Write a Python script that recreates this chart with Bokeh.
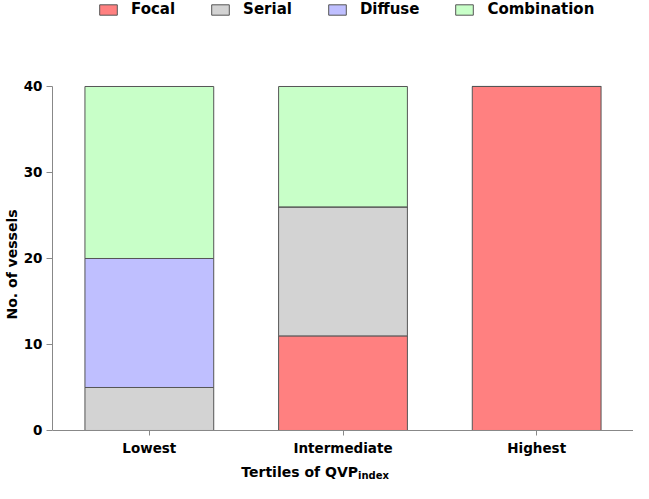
from bokeh.plotting import figure
from bokeh.models import Legend, Label, FixedTicker, Title
from bokeh.embed import file_html
from bokeh.resources import INLINE

tertiles = ["Lowest", "Intermediate", "Highest"]
series = ["Focal", "Serial", "Diffuse", "Combination"]
focal = [0, 11, 40]
serial = [5, 15, 0]
diffuse = [15, 0, 0]
combination = [20, 14, 0]
colors = ["#FF8080", "#D3D3D3", "#BFBFFF", "#C8FFC8"]
y_ticks = [0, 10, 20, 30, 40]

FONT = "DejaVu Sans"

data = {"tertile": tertiles, "Focal": focal, "Serial": serial,
        "Diffuse": diffuse, "Combination": combination}

p = figure(x_range=tertiles, y_range=(-6.163, 50.0), width=633, height=483,
           output_backend="svg", toolbar_location=None,
           min_border_left=45, min_border_right=0, min_border_top=0,
           min_border_bottom=0)

rs = p.vbar_stack(series, x="tertile", width=0.665, source=data,
                  fill_color=colors, line_color="#555555", line_width=1)

legend = Legend(items=[(s, [r]) for s, r in zip(series, rs)],
                orientation="horizontal", location=(45, 465),
                label_text_font=FONT, label_text_font_style="bold",
                label_text_font_size="15px", label_text_color="black",
                glyph_width=22, glyph_height=13,
                label_standoff=12, spacing=34, padding=0, margin=0,
                border_line_color=None, background_fill_alpha=0)
p.add_layout(legend, "center")

p.xgrid.grid_line_color = None
p.ygrid.grid_line_color = None
p.outline_line_color = None

p.xaxis.fixed_location = 0

p.yaxis.ticker = FixedTicker(ticks=y_ticks)
p.yaxis.bounds = (0, 40)
p.yaxis.minor_tick_line_color = None

for ax in (p.xaxis, p.yaxis):
    ax.axis_line_color = "#888888"
    ax.major_tick_line_color = "#888888"
    ax.major_tick_out = 6
    ax.major_tick_in = 0
    ax.major_label_text_font = FONT
    ax.major_label_text_font_style = "bold"
    ax.major_label_text_font_size = "13.5px"
    ax.major_label_text_color = "black"
    ax.major_label_standoff = 4

p.xaxis.major_tick_out = 5
p.xaxis.major_label_standoff = 5

ytitle = Title(text="No. of vessels", align="left", offset=164,
               text_font=FONT, text_font_style="bold",
               text_font_size="14px", text_color="black", standoff=2)
p.add_layout(ytitle, "left")

lab1 = Label(x=1.5, y=0, text="Tertiles of QVP",
             text_align="right", text_baseline="alphabetic",
             x_offset=15, y_offset=-42, text_color="black",
             text_font=FONT, text_font_style="bold", text_font_size="14px")
lab2 = Label(x=1.5, y=0, text="index", text_align="left",
             text_baseline="alphabetic", x_offset=15, y_offset=-45,
             text_color="black",
             text_font=FONT, text_font_style="bold", text_font_size="10px")
p.add_layout(lab1)
p.add_layout(lab2)

open("out.html", "w").write(file_html(p, INLINE))
